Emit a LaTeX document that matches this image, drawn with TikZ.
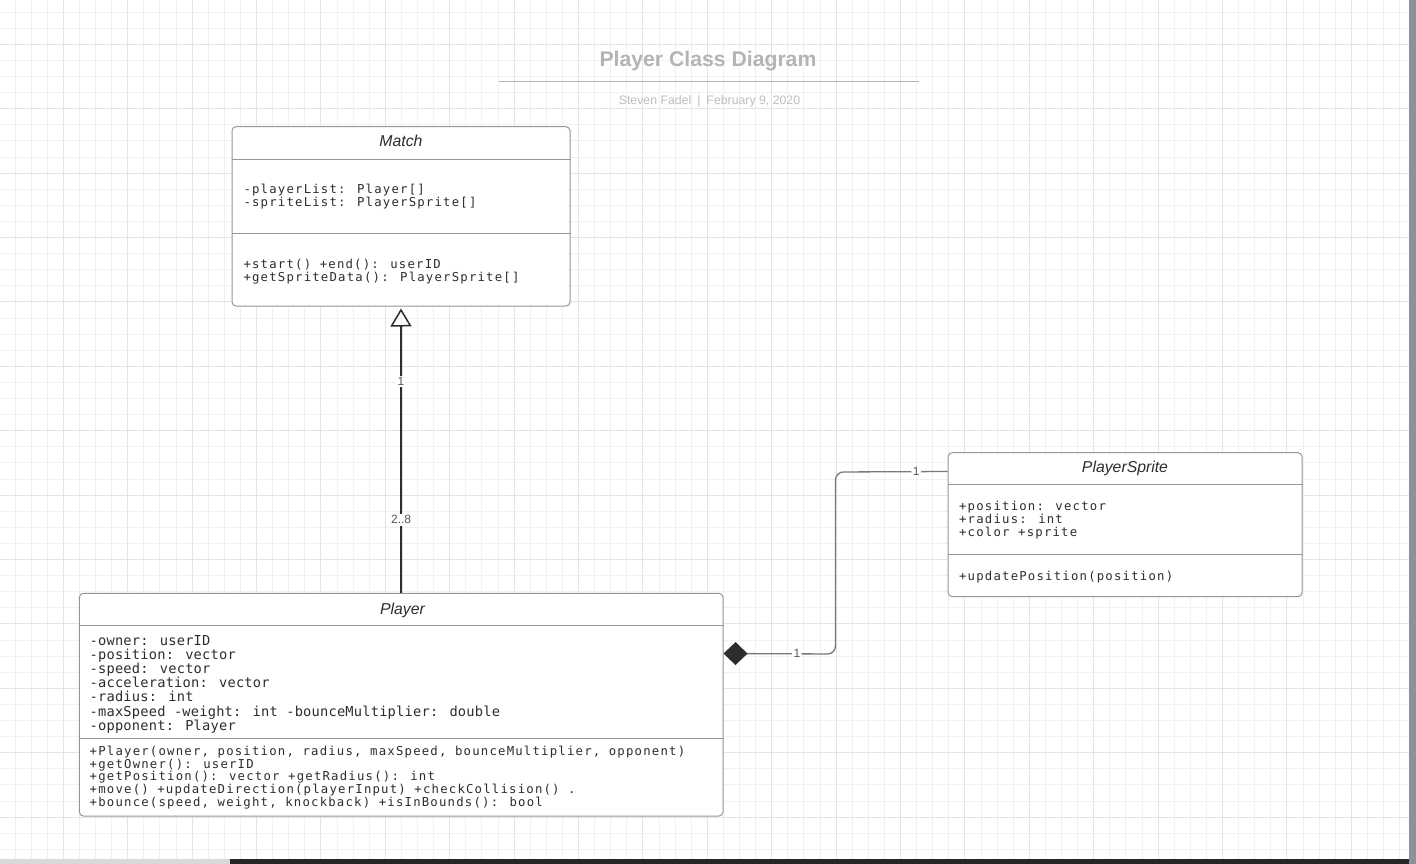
\documentclass[tikz,border=0pt]{standalone}
\usepackage{fontspec}
\setmainfont{Liberation Sans}
\newfontfamily\membfont[LetterSpace=9.8]{DejaVu Sans Mono}
\newfontfamily\attrfont[LetterSpace=1.5]{DejaVu Sans Mono}
\usetikzlibrary{arrows.meta, calc}
\definecolor{gridminor}{RGB}{241,241,241}
\definecolor{gridmajor}{RGB}{228,228,228}
\definecolor{boxgray}{RGB}{150,150,150}
\definecolor{inkgray}{RGB}{45,45,45}
\definecolor{titlegray}{RGB}{180,180,180}
\definecolor{subgray}{RGB}{190,190,190}
\definecolor{linkgray}{RGB}{120,120,120}
\definecolor{barblue}{RGB}{140,146,156}

\tikzset{
  classbox/.style={draw=boxgray, line width=1pt, fill=white, rounded corners=4pt, inner sep=0pt},
  classline/.style={draw=boxgray, line width=1pt},
  classname/.style={font=\fontsize{15.8}{18}\selectfont\itshape, text=inkgray, anchor=base, inner sep=0pt},
  member/.style={font=\membfont\fontsize{12.3}{14}\selectfont, text=inkgray, anchor=base west, inner sep=0pt},
  bigmember/.style={font=\attrfont\fontsize{13.7}{16}\selectfont, text=inkgray, anchor=base west, inner sep=0pt},
  mult/.style={font=\fontsize{12}{14}\selectfont, text=inkgray!80, fill=white, inner sep=1.5pt},
}

\begin{document}
\begin{tikzpicture}[x=1pt, y=-1pt]
  \useasboundingbox (0,0) rectangle (1416,864);
  \fill[white] (0,0) rectangle (1416,864);
  % Grid
  \begin{scope}
    \clip (0,0) rectangle (1409,859);
    \foreach \i in {0,...,87} \draw[gridminor, line width=1pt] ({-1.1+16.1*\i},0) -- ({-1.1+16.1*\i},859);
    \foreach \j in {0,...,53} \draw[gridminor, line width=1pt] (0,{-4+16.1*\j}) -- (1409,{-4+16.1*\j});
    \foreach \i in {0,...,21} \draw[gridmajor, line width=1pt] ({-1.1+64.4*\i},0) -- ({-1.1+64.4*\i},859);
    \foreach \j in {-1,...,12} \draw[gridmajor, line width=1pt] (0,{44.3+64.4*\j}) -- (1409,{44.3+64.4*\j});
  \end{scope}
  % Window edges
  \fill[barblue] (1409,0) rectangle (1416,864);
  \fill[black!15] (0,859) rectangle (230,864);
  \fill[black!85] (230,859) rectangle (1409,864);
  % Title
  \node[font=\fontsize{21.2}{25}\selectfont\bfseries, text=titlegray, anchor=base, inner sep=0pt] (title) at (708,66.7) {Player Class Diagram};
  \draw[titlegray, line width=1.5pt] (499,81.7) -- (918.7,81.7);
  \node[font=\fontsize{12.3}{14}\selectfont, text=subgray, anchor=base, inner sep=0pt] (byline) at (709.5,105) {Steven Fadel\hspace{6pt}|\hspace{6pt}February 9, 2020};

  % Match class
  \node[classbox, minimum width=338pt, minimum height=179.3pt] (match) at (401,216.35) {};
  \draw[classline] (match.west |- 0,159) -- (match.east |- 0,159);
  \draw[classline] (match.west |- 0,233.3) -- (match.east |- 0,233.3);
  \node[classname] (matchname) at (401,146.3) {Match};
  \foreach \txt [count=\k] in {{-playerList: Player[]}, {-spriteList: PlayerSprite[]}}
    \node[member] (matchattr\k) at (243.3,{193.7+12.7*(\k-1)}) {\txt};
  \foreach \txt [count=\k] in {{+start() +end(): userID}, {+getSpriteData(): PlayerSprite[]}}
    \node[member] (matchop\k) at (243.3,{268.4+12.7*(\k-1)}) {\txt};

  % Player class
  \node[classbox, minimum width=643.6pt, minimum height=222.7pt] (player) at (401.2,704.65) {};
  \draw[classline] (player.west |- 0,625) -- (player.east |- 0,625);
  \draw[classline] (player.west |- 0,738.3) -- (player.east |- 0,738.3);
  \node[classname] (playername) at (402.5,614) {Player};
  \foreach \txt [count=\k] in {{-owner: userID}, {-position: vector}, {-speed: vector}, {-acceleration: vector}, {-radius: int}, {-maxSpeed -weight: int -bounceMultiplier: double}, {-opponent: Player}}
    \node[bigmember] (playerattr\k) at (89.5,{645+14.2*(\k-1)}) {\txt};
  \foreach \txt [count=\k] in {{+Player(owner, position, radius, maxSpeed, bounceMultiplier, opponent)}, {+getOwner(): userID}, {+getPosition(): vector +getRadius(): int}, {+move() +updateDirection(playerInput) +checkCollision() .}, {+bounce(speed, weight, knockback) +isInBounds(): bool}}
    \node[member] (playerop\k) at (89.5,{755.1+12.9*(\k-1)}) {\txt};

  % PlayerSprite class
  \node[classbox, minimum width=353.8pt, minimum height=144pt] (sprite) at (1125.1,524.7) {};
  \draw[classline] (sprite.west |- 0,484.3) -- (sprite.east |- 0,484.3);
  \draw[classline] (sprite.west |- 0,554) -- (sprite.east |- 0,554);
  \node[classname] (spritename) at (1125,472.3) {PlayerSprite};
  \foreach \txt [count=\k] in {{+position: vector}, {+radius: int}, {+color +sprite}}
    \node[member] (spriteattr\k) at (958.9,{510.4+12.85*(\k-1)}) {\txt};
  \node[member] (spriteop1) at (958.9,580.4) {+updatePosition(position)};

  % Player -- Match
  \draw[inkgray, line width=2pt, -{Triangle[open, length=18pt, width=21pt, line width=1.5pt]}, shorten >=2pt]
    (player.north) -- node[mult, pos=0.255] (multeight) {2..8} node[mult, pos=0.737] (multmatch) {1} (match.south);
  % Player <>-- PlayerSprite
  \draw[linkgray, line width=1.3pt, {Diamond[length=24pt, width=23pt, fill=inkgray, color=inkgray]}-, rounded corners=8pt]
    ($(player.north east)+(0,60.7)$) -- node[mult, pos=0.655] (multplayer) {1} (835.5,654)
    -- (835.5,472) -- node[mult, pos=0.72] (multsprite) {1} ($(sprite.north west)+(0,19.3)$);
\end{tikzpicture}
\end{document}
